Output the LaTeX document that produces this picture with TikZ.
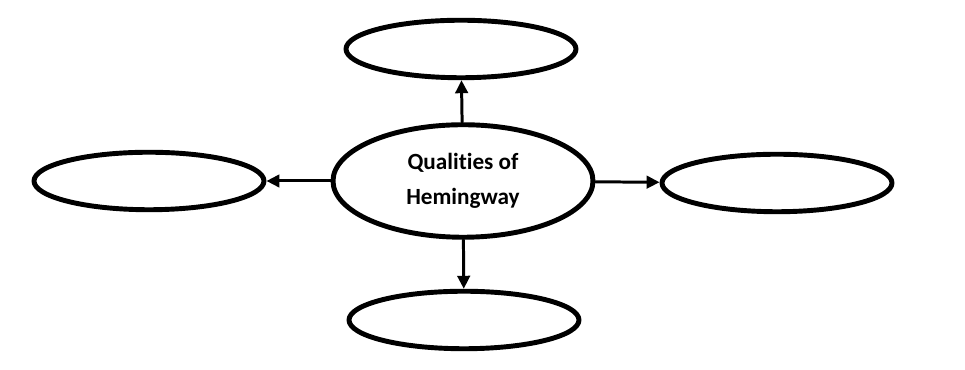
\documentclass[tikz,border=0pt]{standalone}
\usepackage{fontspec}
\setmainfont[Ligatures={NoCommon}]{Carlito}
\usetikzlibrary{arrows.meta, shapes.geometric}

\begin{document}
\begin{tikzpicture}[
  line cap=round,
  line join=round,
  bubble/.style={
    ellipse,
    draw=black,
    line width=2.8pt,
    fill=white,
    minimum width=4.6cm,
    minimum height=1.15cm,
    inner sep=0pt
  },
  hub/.style={
    ellipse,
    draw=black,
    line width=2.8pt,
    fill=white,
    minimum width=5.2cm,
    minimum height=2.25cm,
    align=center,
    font=\fontsize{13.2pt}{20pt}\selectfont\bfseries,
    inner sep=0pt
  },
  arrow/.style={
    -{Triangle[length=2.6mm,width=2.5mm]},
    line width=1.7pt,
    draw=black
  }
]

\useasboundingbox (0,0) rectangle (19.3,7.4);

% =========================================================
% Centre
% =========================================================

\node[hub] (hub) at (9.26,3.78)
{Qualities of\\Hemingway};

% ---------------- Outer bubbles ----------------

\node[bubble] (top) at (9.22,6.42) {};
\node[bubble] (left) at (2.98,3.78) {};
\node[bubble] (right) at (15.54,3.74) {};
\node[bubble] (bottom) at (9.28,1.00) {};

\draw[arrow] (hub) -- (top);
\draw[arrow] (hub) -- (left);
\draw[arrow] (hub) -- (right);
\draw[arrow] (hub) -- (bottom);

\end{tikzpicture}
\end{document}
